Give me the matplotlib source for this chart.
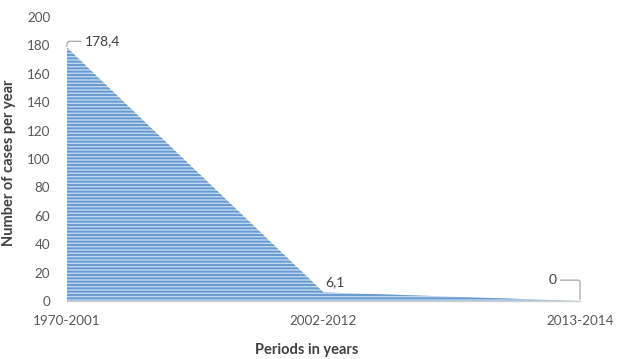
import matplotlib
matplotlib.use("Agg")
import matplotlib.pyplot as plt

# Cases per year by period
periods = ["1970-2001", "2002-2012", "2013-2014"]
cases = [178.4, 6.1, 0.0]
value_labels = ["178,4", "6,1", "0"]
y_ticks = list(range(0, 201, 20))

plt.rcParams["font.family"] = ["Lato", "DejaVu Sans"]
plt.rcParams["hatch.linewidth"] = 1.35
plt.rcParams["hatch.color"] = "#6699cf"

fig = plt.figure(figsize=(6.17, 3.59), dpi=100)
ax = fig.add_axes([67 / 617, 1 - 301 / 359, (580 - 67) / 617, (301 - 17) / 359])

x = list(range(len(periods)))
ax.fill_between(x, cases, 0, facecolor="#bdd6ef", edgecolor="#6699cf",
                hatch="-----", linewidth=0)

ax.set_xlim(0, len(periods) - 1)
ax.set_ylim(0, 200)
ax.set_xticks(x)
ax.set_xticklabels(periods)
ax.set_yticks(y_ticks)
ax.tick_params(axis="both", length=0, labelsize=9.7, labelcolor="#595959")
ax.tick_params(axis="y", pad=12)
ax.tick_params(axis="x", pad=10)

for side in ("left", "right", "top"):
    ax.spines[side].set_visible(False)
ax.spines["bottom"].set_color("#d0d0d0")
ax.spines["bottom"].set_linewidth(1.0)

ax.set_xlabel("Periods in years", fontsize=10.5, fontweight="bold",
              color="#404040", va="center")
ax.xaxis.set_label_coords(0.468, -0.172)
ax.set_ylabel("Number of cases per year", fontsize=10.5, fontweight="bold",
              color="#404040", va="center")
ax.yaxis.set_label_coords(-0.113, 0.486)

leader = dict(arrowstyle="-", color="#a6a6a6", lw=0.9, shrinkA=1, shrinkB=1)

# First point: label up and to the right, with an elbow leader
ax.annotate(value_labels[0], xy=(x[0], cases[0]), xytext=(13, 5),
            textcoords="offset points", ha="left", va="center",
            fontsize=10, color="#404040",
            arrowprops=dict(leader, relpos=(0, 0.45),
                            connectionstyle="angle,angleA=0,angleB=90,rad=3"))

# Middle point: plain label
ax.annotate(value_labels[1], xy=(x[1], cases[1]), xytext=(8, 7.5),
            textcoords="offset points", ha="center", va="center",
            fontsize=10, color="#404040")

# Last point: label up and to the left, with an elbow leader
ax.annotate(value_labels[2], xy=(x[2], cases[2]), xytext=(-17, 15),
            textcoords="offset points", ha="right", va="center",
            fontsize=10, color="#404040",
            arrowprops=dict(leader, relpos=(1, 0.5),
                            connectionstyle="angle,angleA=0,angleB=90,rad=2"))

fig.savefig("out.png", dpi=100)
